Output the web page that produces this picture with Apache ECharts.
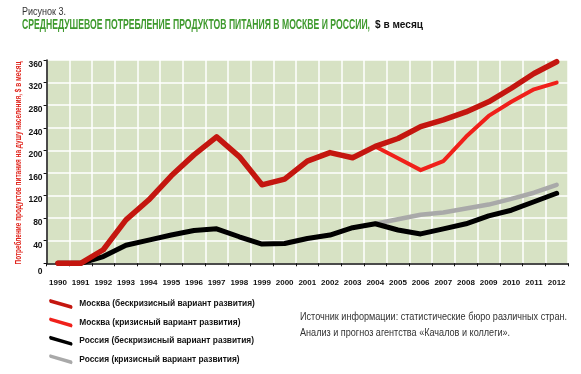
<!DOCTYPE html>
<html>
<head>
<meta charset="utf-8">
<script src="https://cdn.jsdelivr.net/npm/echarts@6/dist/echarts.min.js"></script>
<style>
html,body{margin:0;padding:0;background:#fff;}
#c{width:581px;height:374px;}
</style>
</head>
<body>
<div id="c"></div>
<script>
const years = ['1990','1991','1992','1993','1994','1995','1996','1997','1998','1999','2000','2001','2002','2003','2004','2005','2006','2007','2008','2009','2010','2011','2012'];
const moscowBase   = [0,0,24,77,112,155,192,224,189,139,149,181,196,187,207,221,242,254,268,286,310,336,357];
const moscowCrisis = [null,null,null,null,null,null,null,null,null,null,null,null,null,null,207,186,165,181,224,261,286,308,320];
const russiaBase   = [0,0,12,32,41,50,58,61,47,34,35,44,50,63,70,59,52,61,70,84,94,109,124];
const russiaCrisis = [null,null,null,null,null,null,null,null,null,null,null,null,null,null,70,78,86,90,97,104,114,125,139];
const seriesNames = ['Москва (бескризисный вариант развития)','Москва (кризисный вариант развития)','Россия (бескризисный вариант развития)','Россия (кризисный вариант развития)'];
const yTicks = {min:0, max:360, interval:40};
const figLabel = 'Рисунок 3.';
const titleMain = 'СРЕДНЕДУШЕВОЕ ПОТРЕБЛЕНИЕ ПРОДУКТОВ ПИТАНИЯ В МОСКВЕ И РОССИИ,';
const titleUnit = '$ в месяц';
const yName = 'Потребление продуктов питания на душу населения, $ в месяц';
const source1 = 'Источник информации: статистические бюро различных стран.';
const source2 = 'Анализ и прогноз агентства «Качалов и коллеги».';

const FAM = '"Liberation Sans", Arial, sans-serif';
const mctx = document.createElement('canvas').getContext('2d');
function tw(font, text) { mctx.font = font; return mctx.measureText(text).width; }
function fitScale(font, text, target) { return target / tw(font, text); }

const fTitle = 'bold 14px ' + FAM;
const fUnit = 'bold 10px ' + FAM;
const fFig = '11px ' + FAM;
const fSrc = '11px ' + FAM;
const fY = 'bold 9.5px ' + FAM;
const legendFs = 9 * 176 / tw('bold 9px ' + FAM, seriesNames[0]);

const icon = 'path://M2,0 L26,7 Q28,9 26,11 L2,4 Q0,2 2,0 Z';

function line(name, data, color, width, z) {
  return {
    name: name, type: 'line', data: data, z: z,
    symbol: 'none', connectNulls: false, silent: true,
    itemStyle: {color: color},
    lineStyle: {color: color, width: width, cap: 'round', join: 'round'}
  };
}
function txt(text, font, fill, x, y, sx) {
  return {
    type: 'text', x: x, y: y, scaleX: sx, silent: true,
    style: {text: text, font: font, fill: fill, align: 'left', verticalAlign: 'middle'}
  };
}

const chart = echarts.init(document.getElementById('c'), null, {renderer: 'canvas'});
chart.setOption({
  animation: false,
  backgroundColor: '#ffffff',
  grid: {
    left: 46.6, right: 13, top: 60, bottom: 110.7,
    show: true, backgroundColor: '#d7e2c4', borderWidth: 0
  },
  legend: {
    orient: 'vertical', left: 44, top: 294,
    itemWidth: 27, itemHeight: 10, itemGap: 8.4,
    icon: icon,
    data: seriesNames,
    selectedMode: false,
    textStyle: {fontFamily: FAM, fontSize: legendFs, fontWeight: 'bold', color: '#111'}
  },
  xAxis: {
    type: 'category', data: years, boundaryGap: true,
    axisLine: {show: true, lineStyle: {color: '#111', width: 1.5}},
    axisTick: {show: true, length: 3, lineStyle: {color: '#111', width: 1}},
    axisLabel: {margin: 15, fontFamily: FAM, fontSize: 8, fontWeight: 'bold', color: '#111', interval: 0},
    splitLine: {show: true, lineStyle: {color: '#ffffff', width: 1.5}}
  },
  yAxis: {
    type: 'value', min: yTicks.min, max: yTicks.max, interval: yTicks.interval,
    axisLine: {show: true, lineStyle: {color: '#111', width: 1.5}},
    axisTick: {show: true, length: 3, lineStyle: {color: '#111'}},
    axisLabel: {
      margin: 4, fontFamily: FAM, fontSize: 8.5, fontWeight: 'bold', color: '#111',
      verticalAlign: 'top',
      formatter: function (v) { return v === 0 ? '{z|0}' : String(v); },
      rich: {z: {fontFamily: FAM, fontSize: 8.5, fontWeight: 'bold', color: '#111', padding: [4, 0, 0, 0]}}
    },
    splitLine: {show: true, lineStyle: {color: '#ffffff', width: 1.5}}
  },
  graphic: [
    txt(figLabel, fFig, '#333', 22, 12, fitScale(fFig, figLabel, 44)),
    txt(titleMain, fTitle, '#3f9a2e', 22, 25, fitScale(fTitle, titleMain, 348)),
    txt(titleUnit, fUnit, '#111', 375, 25.5, fitScale(fUnit, titleUnit, 48)),
    txt(source1, fSrc, '#333', 300, 317, fitScale(fSrc, source1, 267)),
    txt(source2, fSrc, '#333', 300, 333, fitScale(fSrc, source1, 267)),
    {
      type: 'text', x: 18, y: 163, rotation: Math.PI / 2, silent: true,
      scaleX: fitScale(fY, yName, 203),
      style: {text: yName, font: fY, fill: '#e0231b', align: 'center', verticalAlign: 'middle'}
    }
  ],
  series: [
    line(seriesNames[3], russiaCrisis, '#a9a9a9', 4.5, 2),
    line(seriesNames[2], russiaBase, '#000000', 5, 3),
    line(seriesNames[1], moscowCrisis, '#f0201a', 4, 4),
    line(seriesNames[0], moscowBase, '#c4160f', 5.5, 5)
  ]
});
</script>
</body>
</html>
